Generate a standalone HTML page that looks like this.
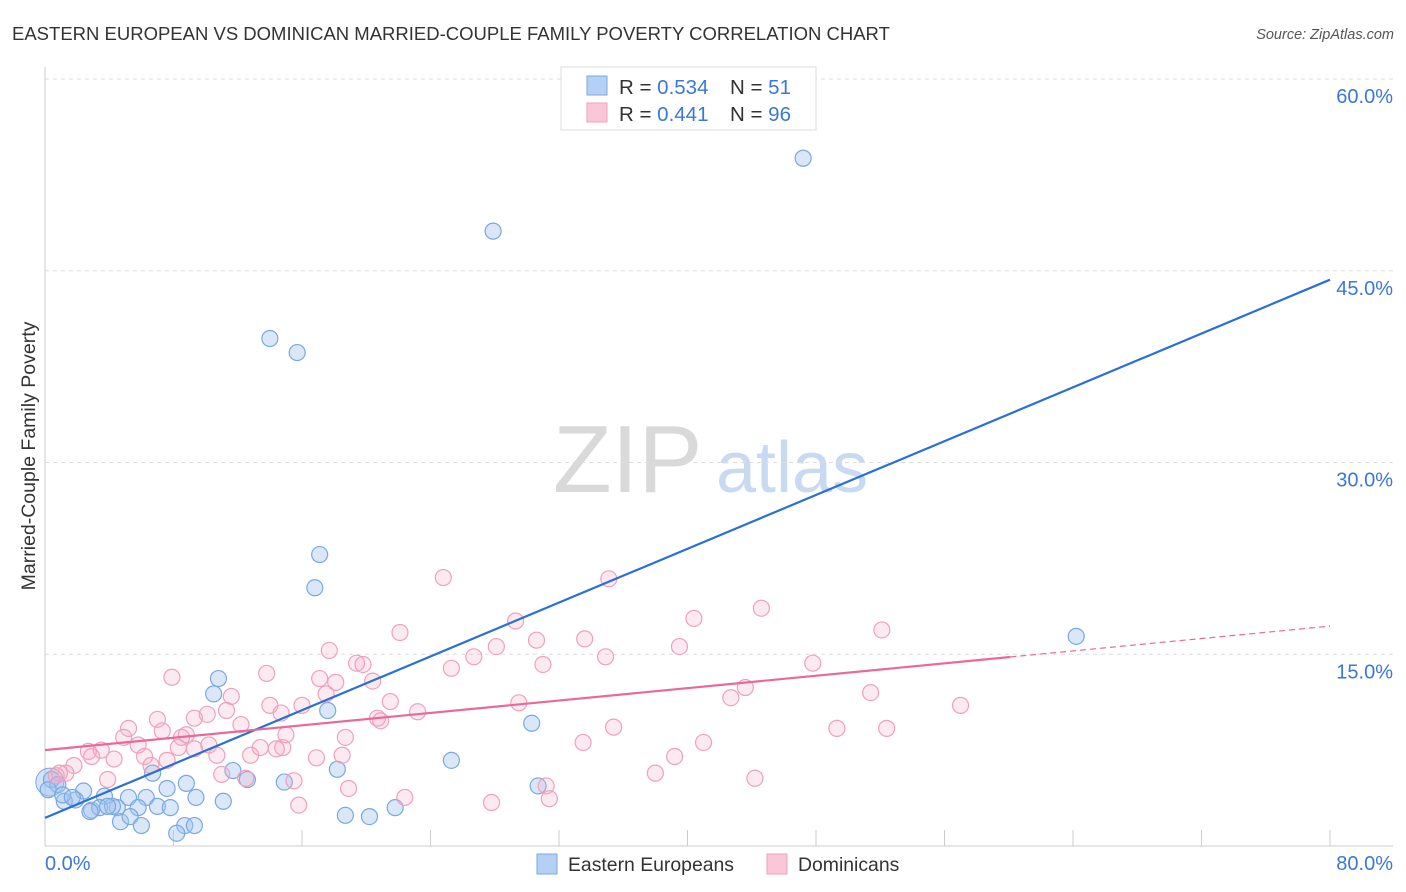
<!DOCTYPE html>
<html><head><meta charset="utf-8">
<style>
body{margin:0;background:#fff;font-family:"Liberation Sans",sans-serif;}
#wrap{position:relative;width:1406px;height:892px;overflow:hidden;}
svg text{font-family:"Liberation Sans",sans-serif;}
</style></head>
<body>
<div id="wrap">
<svg id="chart" width="1406" height="892">
  <text x="12" y="40" font-size="18.5" fill="#333">EASTERN EUROPEAN VS DOMINICAN MARRIED-COUPLE FAMILY POVERTY CORRELATION CHART</text>
  <text x="1394" y="39" font-size="14.5" fill="#555" text-anchor="end" font-style="italic">Source: ZipAtlas.com</text>
  <text transform="translate(35,456) rotate(-90)" font-size="19.5" fill="#333" text-anchor="middle">Married-Couple Family Poverty</text>
  <g>
    <text x="553" y="492" font-size="96" fill="#d9d9d9" font-family="Liberation Serif,serif">ZIP</text>
    <text x="716" y="492" font-size="72" fill="#c8daf2">atlas</text>
  </g>
  <g id="grid"></g>
  <g id="marks"></g>
  <g>
    <rect x="561" y="67" width="255" height="63" fill="#fff" stroke="#ddd"/>
    <rect x="587" y="76" width="20" height="19" fill="#b5d0f5" stroke="#7aa8e0"/>
    <rect x="587" y="103" width="20" height="19" fill="#f9c7d7" stroke="#f0a0bb"/>
    <text x="619" y="94" font-size="20.5" fill="#333">R = <tspan fill="#3a78d8">0.534</tspan></text>
    <text x="730" y="94" font-size="20.5" fill="#333">N = <tspan fill="#3a78d8"> 51</tspan></text>
    <text x="619" y="121" font-size="20.5" fill="#333">R = <tspan fill="#3a78d8"> 0.441</tspan></text>
    <text x="730" y="121" font-size="20.5" fill="#333">N = <tspan fill="#3a78d8">96</tspan></text>
  </g>
  <g>
    <rect x="537" y="854" width="20" height="20" fill="#b5d0f5" stroke="#7aa8e0"/>
    <text x="568" y="871" font-size="19.4" fill="#333">Eastern Europeans</text>
    <rect x="767" y="854" width="20" height="20" fill="#f9c7d7" stroke="#f0a0bb"/>
    <text x="798" y="871" font-size="19.4" fill="#333">Dominicans</text>
  </g>
</svg>
</div>
<script>
const yTicks=[15,30,45,60];
const yTickLabels=["15.0%","30.0%","45.0%","60.0%"];
const xTickValues=[0,8,16,24,32,40,48,56,64,72,80];
const xEndLabels=["0.0%","80.0%"];
const blueX=[47.2,27.9,14.0,15.7,17.1,16.8,64.2,10.8,10.5,17.6,30.3,25.3,18.2,6.7,11.7,12.6,14.9,8.8,7.6,9.4,11.1,2.4,3.7,1.9,1.2,5.2,6.3,7.0,2.9,3.4,4.5,5.8,7.8,2.8,4.7,5.3,6.0,8.7,8.2,9.3,18.7,20.2,21.8,30.7,0.4,0.8,0.2,1.1,1.7,4.2,3.9];
const blueY=[53.8,48.1,39.7,38.6,22.8,20.2,16.4,13.1,11.9,10.6,9.6,6.7,6.0,5.7,5.9,5.2,5.0,4.9,4.5,3.8,3.5,4.3,3.9,3.6,3.5,3.8,3.8,3.1,2.8,3.0,3.0,3.0,3.0,2.7,1.9,2.3,1.6,1.6,1.0,1.6,2.4,2.3,3.0,4.7,5.2,4.8,4.4,4.0,3.8,3.1,3.1];
const pinkX=[7.9,24.8,35.1,22.1,29.3,30.6,33.6,40.4,44.6,52.1,39.5,47.8,34.9,26.7,28.1,31.0,25.3,17.7,19.4,19.8,20.4,17.1,18.1,13.8,17.5,21.5,14.0,16.0,11.6,14.7,10.1,9.3,7.0,5.2,7.3,8.8,12.2,11.3,20.7,20.9,23.2,29.5,35.4,43.6,42.7,51.4,57.0,49.3,52.4,41.0,33.5,14.8,10.2,9.3,5.8,4.3,3.5,2.7,2.9,1.8,1.3,0.9,0.7,12.8,13.4,14.4,16.9,18.5,18.7,15.0,10.7,7.6,6.2,6.6,3.9,11.0,12.5,15.5,18.9,15.8,22.4,27.8,31.2,31.4,38.0,39.2,44.2,4.9,8.3,8.5];
const pinkY=[13.2,21.0,20.9,16.7,17.6,16.1,16.2,17.8,18.6,16.9,15.6,14.3,14.8,14.8,15.6,14.2,13.9,15.3,14.3,14.2,12.9,13.1,12.8,13.5,11.9,11.3,11.0,11.0,11.7,10.4,10.3,10.0,9.9,9.2,9.0,8.7,9.5,10.6,10.0,9.8,10.5,11.2,9.3,12.4,11.6,12.0,11.0,9.2,9.2,8.1,8.1,7.7,7.9,7.6,7.9,6.8,7.5,7.4,7.0,6.3,5.7,5.7,5.5,7.1,7.7,7.6,6.9,7.1,8.5,8.7,7.1,6.7,7.0,6.3,5.2,5.6,5.3,5.1,4.5,3.2,3.8,3.4,4.7,3.7,5.7,7.0,5.3,8.5,7.7,8.5];
const blueTrend=[2.2,44.3];
const pinkTrend=[7.5,17.2];
const pinkSolidEnd=60.1;

const NS="http://www.w3.org/2000/svg";
const X0=45,X1=1330,Y0=846,Y60=79;
function sx(v){return X0+(X1-X0)*v/80;}
function sy(v){return Y0-(Y0-Y60)*v/60;}
function mk(tag,attrs,parent){const e=document.createElementNS(NS,tag);for(const k in attrs)e.setAttribute(k,attrs[k]);parent.appendChild(e);return e;}
const grid=document.getElementById('grid'),marks=document.getElementById('marks');

let ax=mk('line',{x1:X0,y1:67,x2:X0,y2:Y0,stroke:'#ccc'},grid);


let bx=mk('line',{x1:X0,y1:Y0,x2:1393,y2:Y0,stroke:'#ccc'},grid);


yTicks.forEach((t,i)=>{
  const g=mk('line',{x1:X0,y1:sy(t),x2:1393,y2:sy(t),stroke:'#ddd','stroke-dasharray':'4,4'},grid);
  
  
  const tx=mk('text',{x:1393,y:sy(t)+24,'font-size':20,fill:'#3a78d8','text-anchor':'end'},grid);
  tx.textContent=yTickLabels[i];
  
  
});
xTickValues.forEach(t=>{
  const l=mk('line',{x1:sx(t),y1:830,x2:sx(t),y2:Y0,stroke:'#ccc'},grid);
  
  
});
let xl=mk('text',{x:X0,y:870,'font-size':20,fill:'#3a78d8'},grid);xl.textContent=xEndLabels[0];


let xr=mk('text',{x:1393,y:870,'font-size':20,fill:'#3a78d8','text-anchor':'end'},grid);xr.textContent=xEndLabels[1];



let bb=mk('circle',{cx:sx(0.3),cy:sy(5.0),r:14,fill:'rgba(160,196,240,0.45)',stroke:'#7aa8e0'},marks);


blueX.forEach((v,i)=>{
  const c=mk('circle',{cx:sx(v),cy:sy(blueY[i]),r:8,fill:'rgba(160,196,240,0.4)',stroke:'#7aa8e0','stroke-width':1.2},marks);
  
  
});
pinkX.forEach((v,i)=>{
  const c=mk('circle',{cx:sx(v),cy:sy(pinkY[i]),r:8,fill:'rgba(245,170,195,0.25)',stroke:'#f0a0bb','stroke-width':1.2},marks);
  
  
});
const pAt=x=>pinkTrend[0]+(pinkTrend[1]-pinkTrend[0])*x/80;
let bl=mk('line',{x1:sx(0),y1:sy(blueTrend[0]),x2:sx(80),y2:sy(blueTrend[1]),stroke:'#2a6fd6','stroke-width':2.2},marks);


let pl=mk('line',{x1:sx(0),y1:sy(pAt(0)),x2:sx(pinkSolidEnd),y2:sy(pAt(pinkSolidEnd)),stroke:'#e8699a','stroke-width':2.2},marks);


let pd=mk('line',{x1:sx(pinkSolidEnd),y1:sy(pAt(pinkSolidEnd)),x2:sx(80),y2:sy(pAt(80)),stroke:'#e8699a','stroke-width':1.2,'stroke-dasharray':'6,4'},marks);


</script>
</body></html>
